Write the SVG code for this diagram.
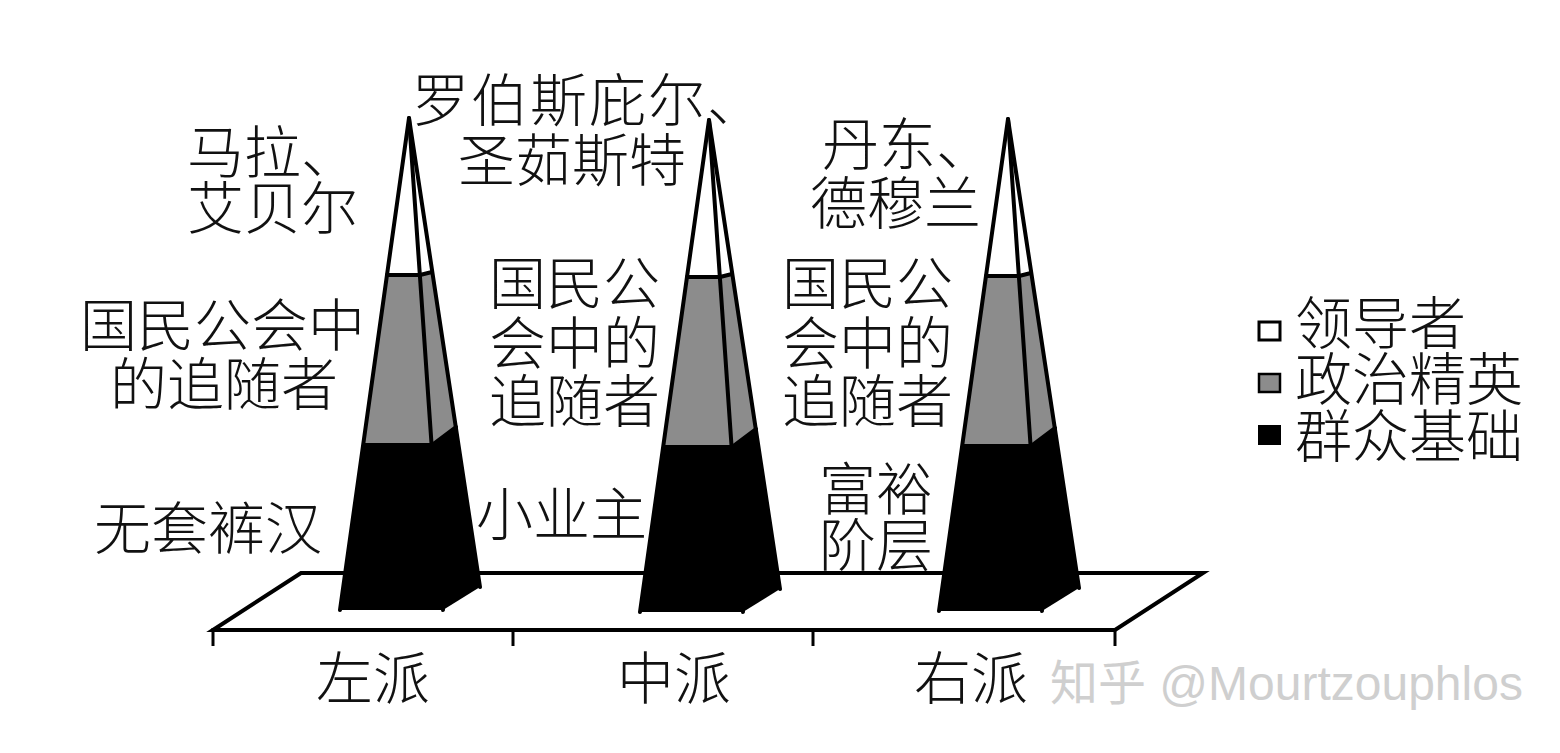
<svg xmlns="http://www.w3.org/2000/svg" xmlns:xlink="http://www.w3.org/1999/xlink" width="1560" height="753" viewBox="0 0 1560 753">
<style>
  .t { font-family: "Noto Sans CJK SC", "Noto Sans CJK JP", sans-serif; font-size: 57px; font-weight: 300; fill: #111; }
  .edge { fill: none; stroke: #000; stroke-width: 4; stroke-linejoin: round; stroke-linecap: round; }
  .blk { fill: #000; }
  .gry { fill: #8c8c8c; }
  .wht { fill: #fff; }
  .wm { font-family: "Liberation Sans", "Noto Sans CJK SC", sans-serif; font-size: 48px; fill: #cfcfcf; }
</style>
<defs>
  <g id="pyr">
    <polygon class="blk" points="364,445 432,445 443,610 340,610"/>
    <polygon class="blk" points="432,445 456,427 480,587 443,610"/>
    <polygon class="gry" points="387,275 420,275 432,445 364,445"/>
    <polygon class="gry" points="420,275 432,272 456,427 432,445"/>
    <polygon class="wht" points="409,118 387,275 420,275"/>
    <polygon class="wht" points="409,118 420,275 432,272"/>
    <polyline class="edge" points="340,610 409,118 480,587"/>
    <line class="edge" x1="409" y1="118" x2="443" y2="610"/>
    <polyline class="edge" points="387,275 420,275 432,272"/>
    <polyline class="edge" points="364,445 432,445 456,427"/>
  </g>
</defs>
<rect width="1560" height="753" fill="#fff"/>

<g id="floor">
  <polygon points="213,630 301,573 1203,573 1115,630" fill="#fff" stroke="#000" stroke-width="4"/>
  <g stroke="#000" stroke-width="3">
    <line x1="213" y1="628" x2="213" y2="646"/>
    <line x1="513" y1="628" x2="513" y2="646"/>
    <line x1="813" y1="628" x2="813" y2="646"/>
    <line x1="1115" y1="628" x2="1115" y2="646"/>
  </g>
</g>

<g id="connectors"></g>

<g id="pyramid-left"><use xlink:href="#pyr"/></g>
<g id="pyramid-center"><use xlink:href="#pyr" transform="translate(300,2)"/></g>
<g id="pyramid-right"><use xlink:href="#pyr" transform="translate(599,1)"/></g>

<g id="labels-left" class="t">
  <text><tspan x="187" y="173">马拉、</tspan><tspan x="187" y="229">艾贝尔</tspan></text>
  <text><tspan x="80" y="346">国民公会中</tspan><tspan x="110" y="405">的追随者</tspan></text>
  <text x="94" y="549">无套裤汉</text>
</g>
<g id="labels-center" class="t">
  <text><tspan x="412" y="121" letter-spacing="2">罗伯斯庇尔、</tspan><tspan x="458" y="181">圣茹斯特</tspan></text>
  <text><tspan x="489" y="304">国民公</tspan><tspan x="489" y="364">会中的</tspan><tspan x="489" y="422">追随者</tspan></text>
  <text x="476" y="535">小业主</text>
</g>
<g id="labels-right" class="t">
  <text><tspan x="822" y="165">丹东、</tspan><tspan x="810" y="224">德穆兰</tspan></text>
  <text><tspan x="782" y="304">国民公</tspan><tspan x="782" y="364">会中的</tspan><tspan x="782" y="422">追随者</tspan></text>
  <text><tspan x="819" y="510">富裕</tspan><tspan x="819" y="566">阶层</tspan></text>
</g>
<g id="axis-labels" class="t">
  <text x="316" y="699">左派</text>
  <text x="617" y="699">中派</text>
  <text x="914" y="699">右派</text>
</g>

<g id="legend">
  <rect x="1259" y="322" width="21" height="18" fill="#fff" stroke="#000" stroke-width="3"/>
  <rect x="1259" y="374" width="21" height="18" fill="#8c8c8c" stroke="#000" stroke-width="2.5"/>
  <rect x="1258" y="425" width="23" height="20" fill="#000"/>
  <text class="t"><tspan x="1295" y="344">领导者</tspan><tspan x="1295" y="400">政治精英</tspan><tspan x="1295" y="457">群众基础</tspan></text>
</g>

<g id="watermark">
  <text class="wm" x="1050" y="700">知乎 @Mourtzouphlos</text>
</g>
</svg>
